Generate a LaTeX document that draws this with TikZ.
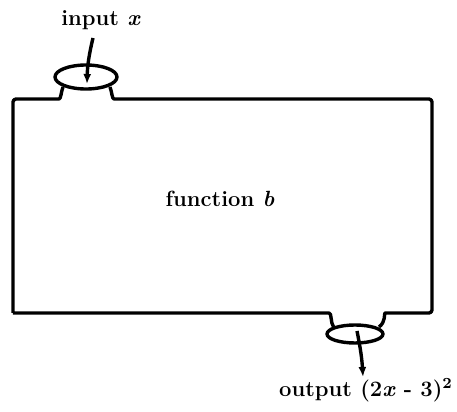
\documentclass[tikz,border=0pt]{standalone}
\usepackage{tikz}
\usetikzlibrary{arrows.meta,positioning,calc}

\begin{document}
\begin{tikzpicture}[x=0.5pt, y=-0.5pt,
    outline/.style={line width=1.7pt, line join=round, rounded corners=1.5pt},
    lbl/.style={font=\fontsize{11}{13}\selectfont\bfseries, inner sep=1pt},
    arr/.style={-{Latex[length=5pt,width=4pt]}, line width=1.7pt}]
  \useasboundingbox (0,0) rectangle (457,412);

  % Machine body with the two funnels
  \draw[outline]
    (13,313) -- (13,99) -- (56,99) .. controls (61,99) and (61,92) .. (63,87)
    (110,87) .. controls (112,92) and (112,99) .. (117,99)
    -- (432,99) -- (432,313) -- (388,313)
    .. controls (384,313) and (386,322) .. (379,327)
    (334,328) .. controls (330,322) and (332,313) .. (326,313) -- (13,313);
  \draw[outline] (86,77) ellipse [x radius=31, y radius=12];
  \draw[outline] (355,334) ellipse [x radius=28, y radius=9];

  % Labels
  \node[lbl] (in) at (101,20) {input \textit{x}};
  \node[lbl] (fn) at (220,199) {function \textit{b}};
  \node[lbl] (out) at (366,390) {output (2\textit{x} - 3)\textsuperscript{2}};

  % Input and output arrows
  \coordinate (inS) at (93,38);
  \coordinate (inE) at (87,84);
  \coordinate (outS) at (357,331);
  \coordinate (outE) at (363,377);
  \draw[arr] (inS) to[bend right=6] (inE);
  \draw[arr] (outS) to[bend left=4] (outE);
\end{tikzpicture}
\end{document}
